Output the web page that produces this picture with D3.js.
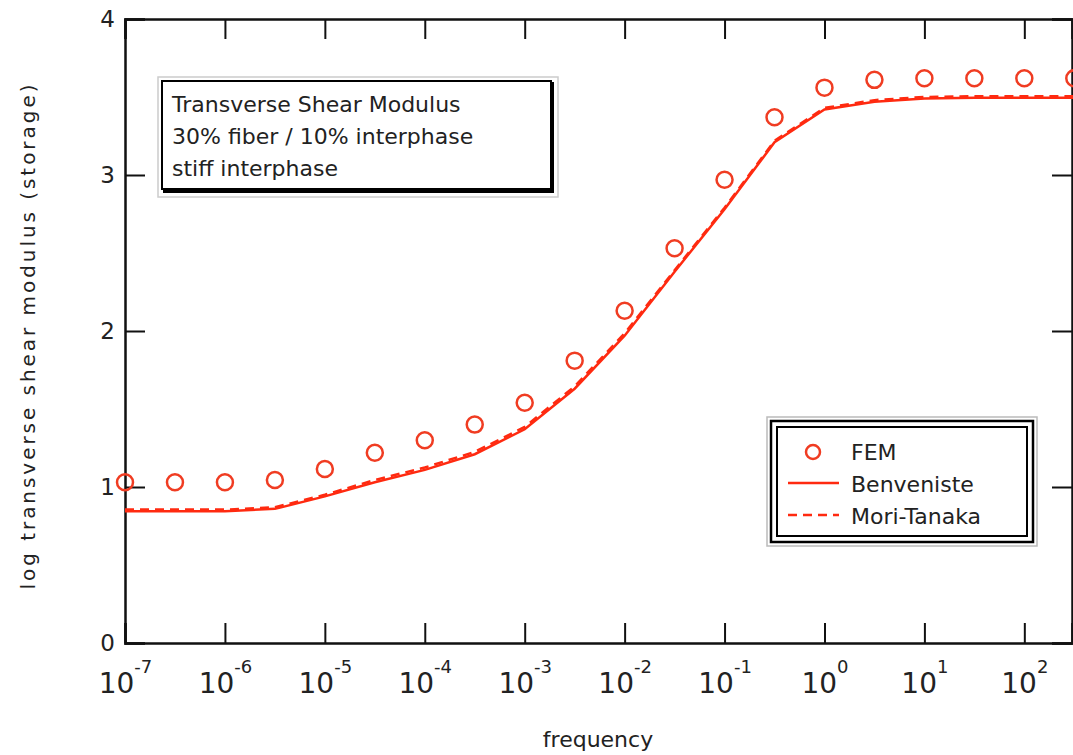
<!DOCTYPE html>
<html>
<head>
<meta charset="utf-8">
<script src="https://cdn.jsdelivr.net/npm/d3@7"></script>
<style>
  body { margin: 0; background: #fff; }
  text { font-family: "DejaVu Sans", sans-serif; fill: #222; }
</style>
</head>
<body>
<div id="chart"></div>
<script>
// data (x = log10 frequency)
var femLogF = [-7, -6.5, -6, -5.5, -5, -4.5, -4, -3.5, -3, -2.5, -2, -1.5, -1, -0.5, 0, 0.5, 1, 1.5, 2, 2.5];
var femValues = [1.03, 1.03, 1.03, 1.045, 1.115, 1.22, 1.30, 1.40, 1.54, 1.81, 2.13, 2.53, 2.97, 3.37, 3.56, 3.61, 3.62, 3.62, 3.62, 3.62];

var modelLogF = [-7, -6.5, -6, -5.5, -5, -4.5, -4, -3.5, -3, -2.5, -2, -1.5, -1, -0.5, 0, 0.5, 1, 1.5, 2, 2.5];
var benvenisteValues = [0.845, 0.845, 0.845, 0.86, 0.94, 1.03, 1.11, 1.21, 1.37, 1.63, 1.97, 2.38, 2.78, 3.21, 3.42, 3.47, 3.49, 3.495, 3.495, 3.495];
var moriTanakaValues = [0.855, 0.855, 0.855, 0.87, 0.95, 1.045, 1.125, 1.225, 1.385, 1.645, 1.985, 2.39, 2.79, 3.22, 3.43, 3.48, 3.50, 3.505, 3.505, 3.505];

var xTickExps = [-7, -6, -5, -4, -3, -2, -1, 0, 1, 2];
var yTicks = [0, 1, 2, 3, 4];
var noteLines = ["Transverse Shear Modulus", "30% fiber / 10% interphase", "stiff interphase"];
var legendNames = ["FEM", "Benveniste", "Mori-Tanaka"];

var red = "#ff2a10";
var circleRed = "#f03c22";

var margin = {top: 19, right: 1, bottom: 112, left: 125},
    width = 1073 - margin.left - margin.right,
    height = 755 - margin.top - margin.bottom;

var svg = d3.select("#chart")
  .append("svg")
    .attr("width", 1073)
    .attr("height", 755)
  .append("g")
    .attr("transform", "translate(" + margin.left + "," + margin.top + ")");

var x = d3.scaleLog()
  .domain([1e-7, 3e2])
  .range([0, width]);

var y = d3.scaleLinear()
  .domain([0, 4])
  .range([height, 0]);

var tickVals = xTickExps.map(function(e) { return Math.pow(10, e); });

// axes (ticks pointing inward on all four sides)
var bottomAx = svg.append("g")
  .attr("transform", "translate(0," + height + ")")
  .call(d3.axisBottom(x).tickValues(tickVals).tickSize(-20).tickFormat(""));
var topAx = svg.append("g")
  .call(d3.axisTop(x).tickValues(tickVals).tickSize(-20).tickFormat(""));
var leftAx = svg.append("g")
  .call(d3.axisLeft(y).tickValues(yTicks).tickSize(-20).tickPadding(30).tickFormat(d3.format("d")));
var rightAx = svg.append("g")
  .attr("transform", "translate(" + width + ",0)")
  .call(d3.axisRight(y).tickValues(yTicks).tickSize(-20).tickFormat(""));

svg.selectAll(".domain")
  .attr("stroke", "#111")
  .attr("stroke-width", 2.5);
svg.selectAll(".tick line")
  .attr("stroke", "#111")
  .attr("stroke-width", 2);
leftAx.selectAll(".tick text")
  .attr("x", -10)
  .style("font-size", "23px")
  .style("fill", "#222");

// power-of-ten labels on the x axis
var xl = bottomAx.selectAll(".tick")
  .append("text")
    .attr("y", 50)
    .attr("text-anchor", "middle")
    .style("fill", "#222");
xl.append("tspan")
  .style("font-size", "28px")
  .text("10");
xl.append("tspan")
  .attr("dy", -20)
  .style("font-size", "18px")
  .text(function(d) { return Math.round(Math.log10(d)); });

// axis titles
svg.append("text")
  .attr("x", 598 - margin.left)
  .attr("y", 747 - margin.top)
  .attr("text-anchor", "middle")
  .style("font-size", "22px")
  .text("frequency");

svg.append("text")
  .attr("transform", "translate(" + (35 - margin.left) + "," + (337 - margin.top) + ") rotate(-90)")
  .attr("text-anchor", "middle")
  .attr("textLength", 505)
  .attr("lengthAdjust", "spacing")
  .style("font-size", "20px")
  .text("log transverse shear modulus (storage)");

// model curves
var benData = modelLogF.map(function(f, i) { return [Math.pow(10, f), benvenisteValues[i]]; });
var mtData = modelLogF.map(function(f, i) { return [Math.pow(10, f), moriTanakaValues[i]]; });
var line = d3.line()
  .x(function(d) { return x(d[0]); })
  .y(function(d) { return y(d[1]); });

svg.append("path")
  .datum(mtData)
  .attr("fill", "none")
  .attr("stroke", red)
  .attr("stroke-width", 2.5)
  .attr("stroke-dasharray", "9,6")
  .attr("d", line);

svg.append("path")
  .datum(benData)
  .attr("fill", "none")
  .attr("stroke", red)
  .attr("stroke-width", 2.5)
  .attr("d", line);

// FEM circles
svg.selectAll("femcircle")
  .data(femLogF)
  .enter()
  .append("circle")
    .attr("cx", function(d) { return x(Math.pow(10, d)); })
    .attr("cy", function(d, i) { return y(femValues[i]); })
    .attr("r", 8)
    .attr("fill", "none")
    .attr("stroke", circleRed)
    .attr("stroke-width", 2.5);

// annotation box
var note = svg.append("g")
  .attr("transform", "translate(" + (158 - margin.left) + "," + (77 - margin.top) + ")");
note.append("rect")
  .attr("width", 400).attr("height", 120)
  .attr("fill", "#fff")
  .attr("stroke", "#ccc")
  .attr("stroke-width", 1.5);
note.append("rect")
  .attr("x", 5).attr("y", 5)
  .attr("width", 391).attr("height", 111)
  .attr("fill", "#000");
note.append("rect")
  .attr("x", 4).attr("y", 4)
  .attr("width", 389).attr("height", 108)
  .attr("fill", "#fff")
  .attr("stroke", "#000")
  .attr("stroke-width", 2);
note.selectAll("noteline")
  .data(noteLines)
  .enter()
  .append("text")
    .attr("x", 14)
    .attr("y", function(d, i) { return 35 + i * 32; })
    .style("font-size", "22px")
    .text(function(d) { return d; });

// legend
var leg = svg.append("g")
  .attr("transform", "translate(" + (767 - margin.left) + "," + (417 - margin.top) + ")");
leg.append("rect")
  .attr("width", 270).attr("height", 129)
  .attr("fill", "#fff")
  .attr("stroke", "#bbb")
  .attr("stroke-width", 1.5);
leg.append("rect")
  .attr("x", 4).attr("y", 4)
  .attr("width", 262).attr("height", 121)
  .attr("fill", "none")
  .attr("stroke", "#000")
  .attr("stroke-width", 2.5);
leg.append("rect")
  .attr("x", 10).attr("y", 10)
  .attr("width", 250).attr("height", 109)
  .attr("fill", "none")
  .attr("stroke", "#000")
  .attr("stroke-width", 2);

leg.append("circle")
  .attr("cx", 46).attr("cy", 35)
  .attr("r", 7)
  .attr("fill", "none")
  .attr("stroke", circleRed)
  .attr("stroke-width", 2.5);
leg.append("line")
  .attr("x1", 21).attr("x2", 72)
  .attr("y1", 66).attr("y2", 66)
  .attr("stroke", red).attr("stroke-width", 2.5);
leg.append("line")
  .attr("x1", 21).attr("x2", 72)
  .attr("y1", 98).attr("y2", 98)
  .attr("stroke", red).attr("stroke-width", 2.5)
  .attr("stroke-dasharray", "9,6");

leg.selectAll("legtext")
  .data(legendNames)
  .enter()
  .append("text")
    .attr("x", 84)
    .attr("y", function(d, i) { return 43 + i * 32; })
    .style("font-size", "22px")
    .text(function(d) { return d; });
</script>
</body>
</html>
